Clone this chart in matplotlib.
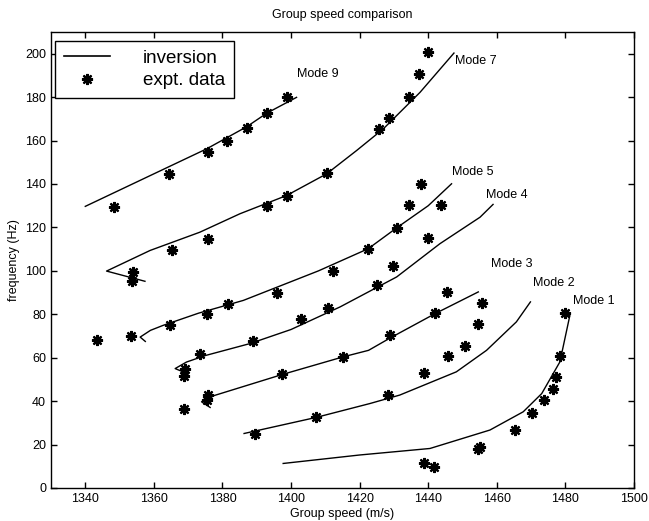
import matplotlib
matplotlib.use("Agg")
import matplotlib.pyplot as plt
from matplotlib.lines import Line2D

plt.rcParams['font.family'] = ['Liberation Sans', 'DejaVu Sans']

# ---- data ----
m1_line_x = [1397.7, 1420.0, 1440.5, 1458.0, 1467.7, 1473.1, 1478.4, 1481.3, 1479.9]
m1_line_y = [11.3, 15.2, 18.2, 26.7, 35.1, 43.5, 58.1, 79.5, 81.0]
m1_star_x = [1438.7, 1441.7, 1454.6, 1455.1, 1465.3, 1470.4, 1473.7, 1476.3, 1477.3, 1478.4, 1479.9]
m1_star_y = [11.6, 9.8, 17.8, 19.0, 26.7, 34.6, 40.5, 45.8, 50.9, 60.7, 80.8]

m2_line_x = [1386.3, 1407.3, 1423.0, 1431.7, 1448.2, 1457.0, 1465.7, 1469.8]
m2_line_y = [25.1, 32.5, 38.9, 42.8, 53.5, 63.4, 76.5, 85.7]
m2_star_x = [1389.5, 1407.3, 1428.3, 1438.8, 1445.9, 1450.7, 1454.4, 1455.6]
m2_star_y = [24.8, 32.5, 42.8, 53.0, 60.7, 65.3, 75.4, 85.4]

m3_line_x = [1376.4, 1373.9, 1376.4, 1397.7, 1415.2, 1422.6, 1428.8, 1442.0, 1454.6]
m3_line_y = [37.1, 39.7, 42.0, 52.4, 60.4, 63.4, 69.0, 80.3, 90.3]
m3_star_x = [1368.9, 1375.6, 1375.9, 1397.5, 1415.2, 1428.8, 1442.0, 1445.6]
m3_star_y = [36.6, 40.5, 42.8, 52.4, 60.4, 70.3, 80.6, 90.3]

m4_line_x = [1370.0, 1366.2, 1369.5, 1375.0, 1388.0, 1400.0, 1414.3, 1430.8, 1443.4, 1455.1, 1458.9]
m4_line_y = [52.5, 55.0, 58.0, 61.0, 66.5, 73.0, 83.4, 97.2, 112.5, 124.7, 130.6]
m4_star_x = [1368.9, 1369.1, 1373.4, 1388.8, 1402.8, 1410.7, 1425.1, 1429.8, 1439.8, 1443.7]
m4_star_y = [51.5, 54.7, 61.9, 67.7, 78.0, 83.1, 93.3, 102.1, 115.1, 130.1]

m5_line_x = [1357.5, 1356.0, 1359.0, 1362.7, 1373.0, 1386.1, 1394.8, 1408.0, 1422.5, 1430.8, 1440.0, 1446.8]
m5_line_y = [67.5, 69.5, 72.6, 74.9, 80.5, 86.4, 91.8, 100.0, 110.2, 119.8, 130.0, 140.1]
m5_star_x = [1343.4, 1353.3, 1364.7, 1375.6, 1381.5, 1395.8, 1412.1, 1422.5, 1430.8, 1434.5, 1437.9]
m5_star_y = [68.0, 70.0, 74.9, 80.0, 84.9, 89.8, 99.9, 110.0, 119.8, 130.1, 140.1]

m7_line_x = [1357.4, 1346.2, 1358.9, 1373.4, 1385.1, 1398.7, 1410.4, 1419.1, 1426.9, 1437.6, 1447.5]
m7_line_y = [95.2, 99.9, 109.4, 117.8, 126.3, 134.7, 144.7, 155.4, 165.4, 182.2, 200.3]
m7_star_x = [1353.5, 1354.0, 1365.4, 1375.7, 1392.9, 1398.7, 1410.6, 1425.7, 1428.5, 1434.4, 1437.4, 1440.0]
m7_star_y = [95.2, 99.5, 109.4, 114.5, 129.7, 134.7, 145.0, 165.4, 170.3, 180.2, 190.7, 200.6]

m9_line_x = [1340.0, 1364.7, 1375.4, 1387.1, 1392.9, 1401.6]
m9_line_y = [129.7, 148.2, 156.2, 166.4, 172.6, 179.9]
m9_star_x = [1348.4, 1364.5, 1375.7, 1381.4, 1387.1, 1392.9, 1398.7]
m9_star_y = [129.3, 144.4, 154.6, 160.0, 165.8, 172.6, 180.2]

mode_labels = ["Mode 9", "Mode 7", "Mode 5", "Mode 4", "Mode 3", "Mode 2", "Mode 1"]
label_x = [1401.6, 1447.8, 1446.9, 1456.8, 1458.4, 1470.6, 1482.3]
label_y = [190.5, 196.8, 145.4, 135.0, 103.0, 94.6, 86.0]

x_ticks = [1340, 1360, 1380, 1400, 1420, 1440, 1460, 1480, 1500]
y_ticks = [0, 20, 40, 60, 80, 100, 120, 140, 160, 180, 200]

lines = [(m1_line_x, m1_line_y), (m2_line_x, m2_line_y), (m3_line_x, m3_line_y),
         (m4_line_x, m4_line_y), (m5_line_x, m5_line_y), (m7_line_x, m7_line_y),
         (m9_line_x, m9_line_y)]
stars = [(m1_star_x, m1_star_y), (m2_star_x, m2_star_y), (m3_star_x, m3_star_y),
         (m4_star_x, m4_star_y), (m5_star_x, m5_star_y), (m7_star_x, m7_star_y),
         (m9_star_x, m9_star_y)]

# ---- figure ----
fig = plt.figure(figsize=(6.49, 5.21), dpi=100)
ax = fig.add_axes([51 / 649, (521 - 488) / 521, 583 / 649, 456 / 521])

STAR = (8, 2, 0)
for lx, ly in lines:
    ax.plot(lx, ly, color='black', lw=1.0)
for sx, sy in stars:
    ax.plot(sx, sy, linestyle='none', marker=STAR, color='black',
            markersize=8, markeredgewidth=1.6)

for t, x, y in zip(mode_labels, label_x, label_y):
    ax.text(x, y, t, fontsize=9, va='center', ha='left')

ax.set_xlim(1330, 1500)
ax.set_ylim(0, 210)
ax.set_xticks(x_ticks)
ax.set_yticks(y_ticks)
ax.tick_params(direction='in', top=True, right=True, length=4, labelsize=9, width=1)
for s in ax.spines.values():
    s.set_linewidth(1.0)

ax.set_title("Group speed comparison", fontsize=9, pad=10)
ax.set_xlabel("Group speed (m/s)", fontsize=9, labelpad=2)
ax.set_ylabel("frequency (Hz)", fontsize=9, labelpad=4)

handles = [Line2D([], [], color='black', lw=1.2),
           Line2D([], [], linestyle='none', marker=STAR, color='black',
                  markersize=8, markeredgewidth=1.6)]
leg = ax.legend(handles, ["inversion", "expt. data"], loc='upper left',
                bbox_to_anchor=(0.007, 0.98), borderaxespad=0, fontsize=13.5,
                fancybox=False, framealpha=1, edgecolor='black',
                handlelength=2.5, handletextpad=1.75, borderpad=0.45,
                labelspacing=0.3, numpoints=1)
leg.get_frame().set_linewidth(1.0)

fig.savefig("out.png", dpi=100)
